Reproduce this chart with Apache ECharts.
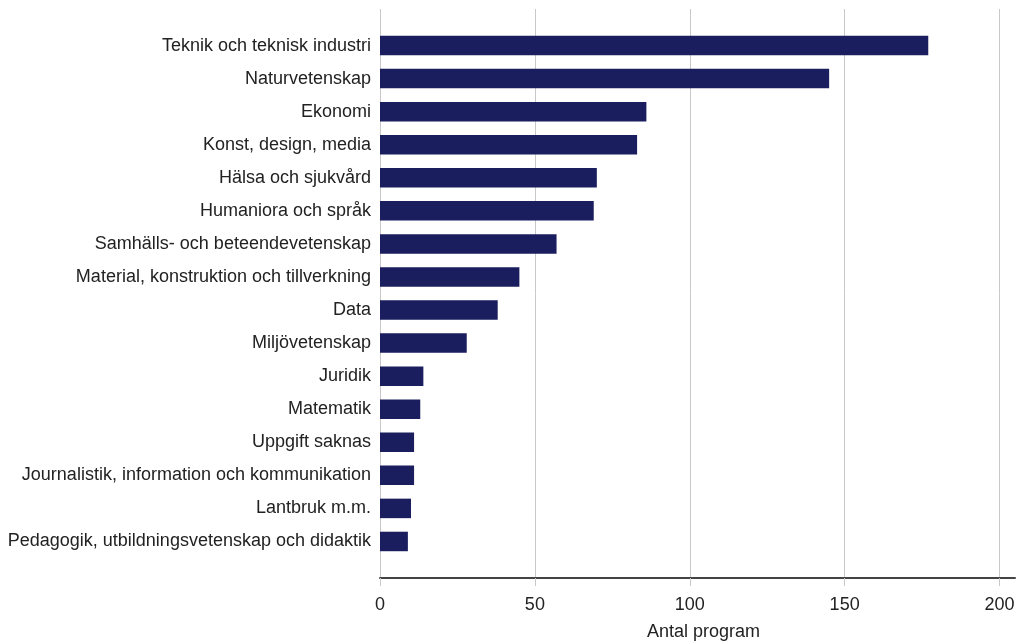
<!DOCTYPE html>
<html>
<head>
<meta charset="utf-8">
<script src="https://cdn.jsdelivr.net/npm/echarts@6/dist/echarts.min.js"></script>
<style>
  html, body { margin: 0; padding: 0; background: #fff; }
  #chart { width: 1017px; height: 644px; }
</style>
</head>
<body>
<div id="chart"></div>
<script>
// kategorier, uppifrån och ned
const categories = [
  'Teknik och teknisk industri',
  'Naturvetenskap',
  'Ekonomi',
  'Konst, design, media',
  'Hälsa och sjukvård',
  'Humaniora och språk',
  'Samhälls- och beteendevetenskap',
  'Material, konstruktion och tillverkning',
  'Data',
  'Miljövetenskap',
  'Juridik',
  'Matematik',
  'Uppgift saknas',
  'Journalistik, information och kommunikation',
  'Lantbruk m.m.',
  'Pedagogik, utbildningsvetenskap och didaktik'
];
const antalProgram = [177, 145, 86, 83, 70, 69, 57, 45, 38, 28, 14, 13, 11, 11, 10, 9];
const xTicks = [0, 50, 100, 150, 200];
const xName = 'Antal program';

const font = 'Arial, "Liberation Sans", sans-serif';
const chart = echarts.init(document.getElementById('chart'));

chart.setOption({
  animation: false,
  textStyle: { fontFamily: font },
  grid: [
    // axel + stödlinjer
    { left: 380, right: 2, top: 9, bottom: 66, outerBoundsMode: 'none' },
    // staplar
    { left: 380, right: 2, top: 29, bottom: 86, outerBoundsMode: 'none' }
  ],
  xAxis: [
    {
      gridIndex: 0,
      type: 'value',
      min: 0,
      max: 205,
      name: xName,
      nameLocation: 'middle',
      nameGap: 45,
      nameTextStyle: { fontSize: 18, color: '#222', padding: [0, 0, 0, 12] },
      axisLine: { show: true, lineStyle: { color: '#444', width: 2 } },
      axisTick: { show: true, length: 8, customValues: xTicks, lineStyle: { color: '#c8c8c8' } },
      axisLabel: { customValues: xTicks, margin: 18, fontSize: 18, color: '#222' },
      splitLine: { show: true, lineStyle: { color: '#c8c8c8', width: 1 } }
    },
    {
      gridIndex: 1,
      type: 'value',
      min: 0,
      max: 205,
      show: false
    }
  ],
  yAxis: [
    {
      gridIndex: 0,
      type: 'value',
      show: false
    },
    {
      gridIndex: 1,
      type: 'category',
      inverse: true,
      data: categories,
      axisLine: { show: false },
      axisTick: { show: false },
      axisLabel: { margin: 9, fontSize: 18, color: '#222' }
    }
  ],
  series: [
    {
      type: 'bar',
      xAxisIndex: 1,
      yAxisIndex: 1,
      data: antalProgram,
      barWidth: '59%',
      itemStyle: { color: '#1b1e5e' }
    }
  ]
});
</script>
</body>
</html>
